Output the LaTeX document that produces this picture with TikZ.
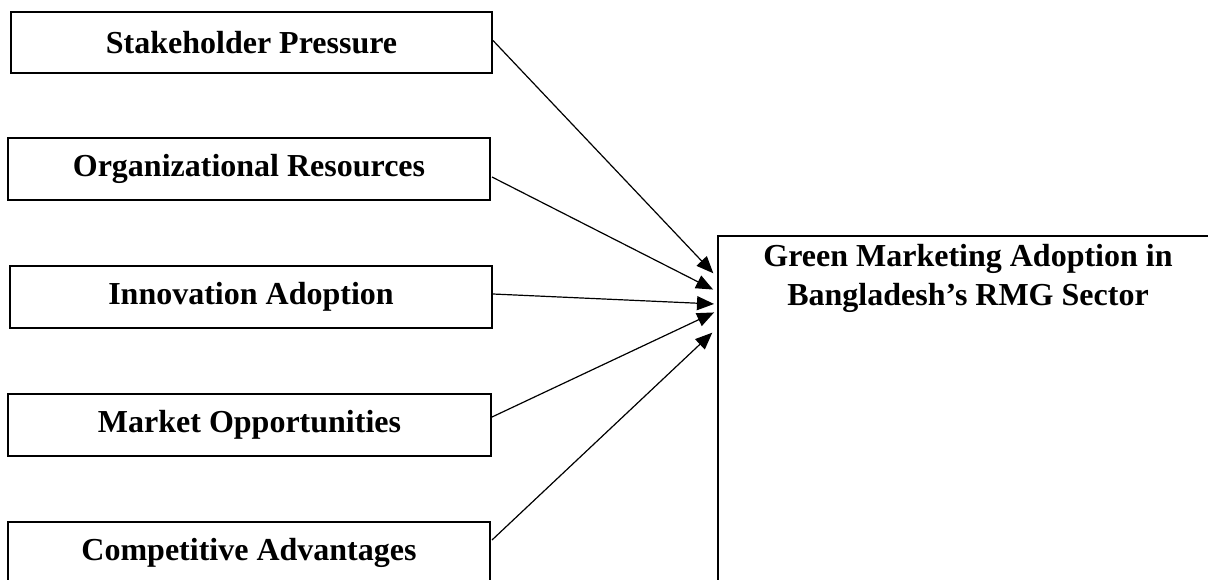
\documentclass[tikz,border=0pt]{standalone}
\usepackage{fontspec}
\setmainfont{Liberation Serif}
\usetikzlibrary{arrows.meta,calc}
\begin{document}
\begin{tikzpicture}[x=1pt,y=-1pt,
  factor/.style={draw=black,line width=2pt,minimum width=482pt,minimum height=62pt,inner sep=0pt,
    font=\fontsize{32}{39}\selectfont\bfseries},
  target/.style={draw=black,line width=2pt,minimum width=600pt,minimum height=500pt,inner sep=0pt,anchor=north west},
  conn/.style={draw=black,line width=1.2pt,-{Triangle[length=17pt,width=14pt]},shorten >=1pt}]
\useasboundingbox (0,0) rectangle (1208,579);
\clip (0,0) rectangle (1208,579);
\fill[white] (0,0) rectangle (1208,579);
\node[factor,minimum width=481pt,minimum height=61pt] (sp) at (251.5,42.5) {Stakeholder Pressure};
\node[factor] (or) at (249,169) {Organizational Resources};
\node[factor] (in) at (251,297) {Innovation Adoption};
\node[factor,minimum width=483pt] (mo) at (249.5,425) {Market Opportunities};
\node[factor] (ca) at (249,553) {Competitive Advantages};
\node[target] (gm) at (717,235) {};
\node[font=\fontsize{32}{39}\selectfont\bfseries,align=center,anchor=base,inner sep=0pt] (gt) at (968,305)
  {Green Marketing Adoption in\\Bangladesh’s RMG Sector};
\draw[conn] ($(sp.east)+(0,-2)$) -- ($(gm.north west)+(-3,39)$);
\draw[conn] ($(or.east)+(1,8)$) -- ($(gm.north west)+(-3,55)$);
\draw[conn] ($(in.east)+(0,-3)$) -- ($(gm.north west)+(-2,69)$);
\draw[conn] ($(mo.east)+(0,-8)$) -- ($(gm.north west)+(-2,77)$);
\draw[conn] ($(ca.east)+(1,-13)$) -- ($(gm.north west)+(-4,97)$);
\end{tikzpicture}
\end{document}
